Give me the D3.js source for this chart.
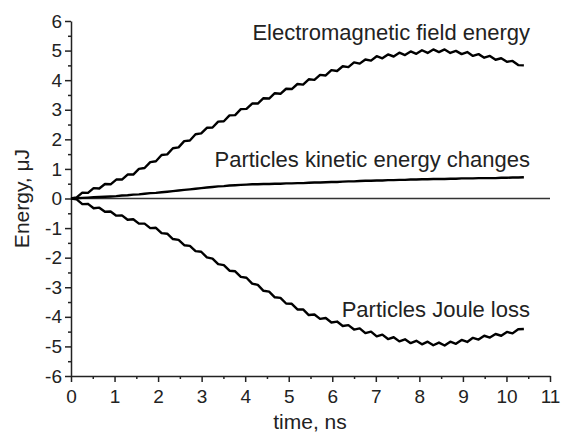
<!DOCTYPE html>
<html>
<head>
<meta charset="utf-8">
<script src="https://cdn.jsdelivr.net/npm/d3@7"></script>
<style>
  body { margin: 0; background: #fff; }
  svg { display: block; font-family: "Liberation Sans", Arial, sans-serif; }
  .axis path, .axis line { stroke: #222; stroke-width: 1.5; }
  .axis text { font-size: 19px; fill: #222; font-family: "Liberation Sans", Arial, sans-serif; }
</style>
</head>
<body>
<svg id="chart" width="563" height="434"></svg>
<script>
// sample grid, ns (every 0.13 ns from 0 to 10.4)
const timeStep = 0.13
const emField = [0, 0.04, 0.20, 0.19, 0.35, 0.34, 0.49, 0.48, 0.64, 0.64,
  0.81, 0.81, 1.00, 1.03, 1.23, 1.26, 1.47, 1.49, 1.70, 1.73,
  1.94, 1.96, 2.17, 2.20, 2.39, 2.40, 2.60, 2.61, 2.81, 2.82,
  3.02, 3.03, 3.21, 3.21, 3.39, 3.38, 3.56, 3.54, 3.71, 3.70,
  3.87, 3.85, 4.03, 4.01, 4.18, 4.16, 4.34, 4.31, 4.47, 4.44,
  4.60, 4.56, 4.70, 4.66, 4.81, 4.74, 4.87, 4.80, 4.93, 4.85,
  4.97, 4.89, 5.01, 4.92, 5.04, 4.95, 5.04, 4.92, 4.99, 4.88,
  4.95, 4.82, 4.88, 4.76, 4.82, 4.69, 4.74, 4.62, 4.65, 4.51, 4.50]
const kinetic = [0, 0.01, 0.02, 0.03, 0.04, 0.05, 0.06, 0.07, 0.08, 0.10,
  0.11, 0.13, 0.14, 0.16, 0.18, 0.19, 0.21, 0.23, 0.25, 0.27,
  0.29, 0.31, 0.33, 0.35, 0.37, 0.39, 0.41, 0.42, 0.44, 0.45,
  0.46, 0.47, 0.48, 0.48, 0.49, 0.49, 0.50, 0.50, 0.51, 0.51,
  0.52, 0.52, 0.53, 0.54, 0.54, 0.55, 0.56, 0.56, 0.57, 0.58,
  0.58, 0.59, 0.60, 0.60, 0.61, 0.61, 0.62, 0.62, 0.63, 0.63,
  0.64, 0.64, 0.65, 0.65, 0.66, 0.66, 0.66, 0.67, 0.67, 0.68,
  0.68, 0.68, 0.69, 0.69, 0.69, 0.69, 0.70, 0.70, 0.71, 0.71, 0.72]
const jouleLoss = [0, -0.03, -0.19, -0.18, -0.33, -0.31, -0.45, -0.44, -0.58, -0.57,
  -0.72, -0.70, -0.85, -0.85, -1.00, -0.99, -1.17, -1.19, -1.37, -1.40,
  -1.58, -1.60, -1.78, -1.80, -1.99, -2.03, -2.22, -2.25, -2.44, -2.46,
  -2.65, -2.68, -2.88, -2.92, -3.12, -3.15, -3.34, -3.36, -3.55, -3.56,
  -3.75, -3.75, -3.94, -3.92, -4.07, -4.04, -4.19, -4.16, -4.31, -4.28,
  -4.43, -4.39, -4.55, -4.50, -4.66, -4.60, -4.75, -4.69, -4.83, -4.76,
  -4.89, -4.81, -4.93, -4.84, -4.96, -4.87, -4.97, -4.84, -4.91, -4.78,
  -4.85, -4.71, -4.77, -4.64, -4.70, -4.58, -4.64, -4.51, -4.56, -4.42, -4.41]

const xTicks = [0, 1, 2, 3, 4, 5, 6, 7, 8, 9, 10, 11]
const yTicks = [-6, -5, -4, -3, -2, -1, 0, 1, 2, 3, 4, 5, 6]
const yTickLabels = ["-6", "-5", "-4", "-3", "-2", "-1", "0", "1", "2", "3", "4", "5", "6"]
const seriesLabels = ["Electromagnetic field energy", "Particles kinetic energy changes", "Particles Joule loss"]

const width = 563, height = 434
const margin = {left: 71, right: 13, top: 21, bottom: 58}

const svg = d3.select("#chart")

const x = d3.scaleLinear([0, 11], [margin.left, width - margin.right])
const y = d3.scaleLinear([-6, 6], [height - margin.bottom, margin.top])

const minorX = d3.range(0.5, 11, 1)
const minorY = d3.range(-5.5, 6, 1)

// minor ticks first, then the major axes on top
svg.append("g").attr("class", "axis")
    .attr("transform", `translate(0, ${y(-6)})`)
    .call(d3.axisBottom(x).tickValues(minorX).tickSize(3).tickFormat(""))
    .call(g => g.select(".domain").remove())
svg.append("g").attr("class", "axis")
    .attr("transform", `translate(${x(0)}, 0)`)
    .call(d3.axisLeft(y).tickValues(minorY).tickSize(3).tickFormat(""))
    .call(g => g.select(".domain").remove())

svg.append("g").attr("class", "axis")
    .attr("transform", `translate(0, ${y(-6)})`)
    .call(d3.axisBottom(x).tickValues(xTicks).tickSize(6).tickSizeOuter(0).tickPadding(8).tickFormat(d3.format("d")))

svg.append("g").attr("class", "axis")
    .attr("transform", `translate(${x(0)}, 0)`)
    .call(d3.axisLeft(y).tickValues(yTicks).tickSize(6).tickSizeOuter(0).tickPadding(3)
        .tickFormat((d, i) => yTickLabels[i]))

// zero line
svg.append("line")
    .attr("x1", x(0)).attr("x2", x(11))
    .attr("y1", y(0)).attr("y2", y(0))
    .attr("stroke", "#333").attr("stroke-width", 1.5)

const line = d3.line()
    .x((d, i) => x(i * timeStep))
    .y(d => y(d))

svg.append("g")
    .attr("fill", "none")
    .attr("stroke", "#000")
    .attr("stroke-width", 2.4)
    .attr("stroke-linejoin", "round")
    .selectAll("path")
    .data([emField, kinetic, jouleLoss])
    .join("path")
    .attr("d", line)

// series annotations
const labelPos = [[530, 40], [530, 167], [530, 317]]
svg.append("g")
    .selectAll("text")
    .data(seriesLabels)
    .join("text")
    .attr("x", (d, i) => labelPos[i][0])
    .attr("y", (d, i) => labelPos[i][1])
    .attr("text-anchor", "end")
    .attr("font-size", 22)
    .attr("fill", "#222")
    .text(d => d)

svg.append("text")
    .attr("x", 310).attr("y", 429)
    .attr("text-anchor", "middle")
    .attr("font-size", 21)
    .attr("fill", "#222")
    .text("time, ns")

svg.append("text")
    .attr("transform", `translate(29, ${y(0)}) rotate(-90)`)
    .attr("text-anchor", "middle")
    .attr("font-size", 21)
    .attr("fill", "#222")
    .text("Energy, μJ")
</script>
</body>
</html>
